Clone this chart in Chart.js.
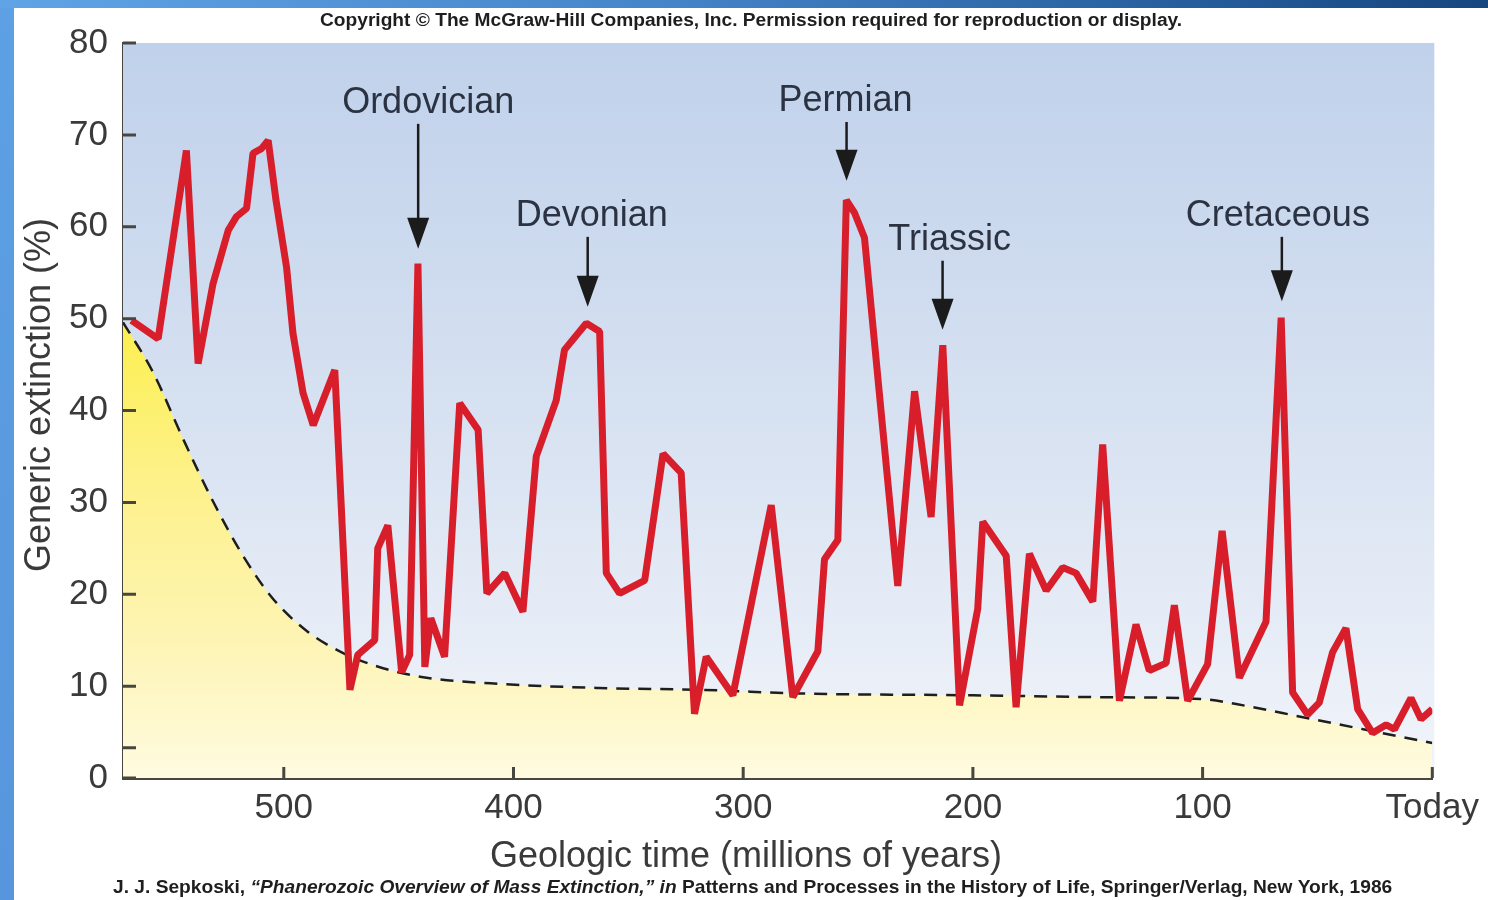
<!DOCTYPE html>
<html><head><meta charset="utf-8">
<script src="https://cdn.jsdelivr.net/npm/chart.js@4.4.1/dist/chart.umd.min.js"></script>
<style>
html,body{margin:0;padding:0;background:#fff;}
#wrap{position:relative;width:1488px;height:900px;overflow:hidden;background:#fff;}
#leftbar{position:absolute;left:0;top:0;width:14px;height:900px;background:linear-gradient(#5da0e3,#5796dc);}
#topbar{position:absolute;left:0;top:0;width:1488px;height:8px;background:linear-gradient(90deg,#60a4e6,#4584c8 45%,#2a63a3 75%,#15467f);}
canvas{position:absolute;left:0;top:0;}
</style></head><body>
<div id="wrap"><div id="leftbar"></div><div id="topbar"></div><canvas id="c" width="1488" height="900"></canvas></div>
<script>
// ---- data ----
const timeMya = [566.3,554.7,542.4,537.3,530.8,524.2,520.6,516.2,513.4,509.7,506.8,503.4,498.8,496.0,491.6,487.2,477.8,471.2,467.8,460.4,459.1,454.7,448.7,445.2,441.6,438.6,436.0,430.0,423.4,415.4,411.6,403.8,395.9,390.1,381.4,377.8,368.3,362.5,359.6,353.8,342.9,334.9,327.0,321.2,316.1,304.5,287.8,278.4,267.5,264.6,258.8,255.1,251.5,247.2,232.7,225.4,218.2,213.1,205.8,197.9,195.7,185.5,181.2,175.4,168.1,160.9,155.1,147.8,143.5,136.2,129.0,123.2,115.9,112.3,106.5,97.8,91.5,84.0,72.4,65.8,60.8,54.3,49.2,43.4,37.6,32.5,26.0,20.1,16.5,9.3,4.9,0];
const extinctionPct = [49.8,47.8,68.3,45.1,53.8,59.6,61.1,62.0,68.0,68.5,69.4,62.9,55.6,48.4,41.9,38.4,44.4,9.6,13.4,15.0,25.0,27.5,11.5,13.4,56.0,12.1,17.4,13.2,40.8,37.9,20.1,22.3,18.1,35.0,41.1,46.6,49.5,48.6,22.3,20.1,21.5,35.3,33.2,7.0,13.2,9.0,29.7,8.8,13.8,23.8,25.9,62.9,61.5,58.8,20.9,42.1,28.4,47.1,7.9,18.4,27.9,24.2,7.7,24.4,20.4,22.9,22.3,19.2,36.3,8.4,16.7,11.7,12.5,18.8,8.4,12.4,26.9,10.9,17.0,50.1,9.3,6.9,8.2,13.7,16.3,7.5,4.9,5.8,5.3,8.7,6.4,7.5];
const backgroundTimeMya = [570,557,544,531,518,505,490,475,460,440,410,363,319,275,200,145,101,80,58,30,0];
const backgroundPct = [49.6,44.2,37.0,30.2,24.3,19.6,16.0,13.7,12.2,11.0,10.3,9.8,9.6,9.2,9.0,8.8,8.6,7.8,6.7,5.3,3.8];
const xTickValues = [500,400,300,200,100,0];
const xTickLabels = ['500','400','300','200','100','Today'];
const yTickValues = [0,10,20,30,40,50,60,70,80];
const yTickLabels = ['0','10','20','30','40','50','60','70','80'];
const yMinorTicks = [3.3];
const eventNames = ['Ordovician','Devonian','Permian','Triassic','Cretaceous'];
const eventTimes = [441.5,367.7,255.0,213.2,65.5];
const eventArrowTip = [57.6,51.3,65.0,48.8,51.9];
const eventArrowTop = [71.2,58.9,71.4,56.3,58.9];
const xTitle = 'Geologic time (millions of years)';
const yTitle = 'Generic extinction (%)';
const headerText = 'Copyright \u00A9 The McGraw-Hill Companies, Inc. Permission required for reproduction or display.';
const footerParts = ['J. J. Sepkoski, ', '\u201CPhanerozoic Overview of Mass Extinction,\u201D in ', 'Patterns and Processes in the History of Life, Springer/Verlag, New York, 1986'];

// ---- layout / style ----
const FONT = '"Liberation Sans", Arial, Helvetica, sans-serif';
const AXIS_COLOR = '#48473f';
const TEXT_COLOR = '#3a3a3a';
const labelDx = [10, 4, -1, 7, -4];

const redPts = timeMya.map((t,i)=>({x:t, y:extinctionPct[i]}));
const basePts = backgroundTimeMya.map((t,i)=>({x:t, y:backgroundPct[i]}));

function fitFont(ctx, text, weight, target){
  ctx.font = weight + ' 20px ' + FONT;
  const w = ctx.measureText(text).width;
  return 20 * target / w;
}

const decor = {
  id:'decor',
  beforeDatasetsDraw(chart){
    const {ctx, chartArea:a} = chart;
    ctx.save();
    const g = ctx.createLinearGradient(0, a.top, 0, a.bottom);
    g.addColorStop(0, '#c0d1eb');
    g.addColorStop(0.55, '#d9e3f2');
    g.addColorStop(1, '#f1f4fa');
    ctx.fillStyle = g;
    ctx.fillRect(a.left, a.top, a.right - a.left + 2, a.bottom - a.top);
    ctx.restore();
  },
  afterDatasetsDraw(chart){
    const {ctx, chartArea:a, scales} = chart;
    const xs = scales.x, ys = scales.y;
    ctx.save();
    // inner tick marks
    ctx.strokeStyle = AXIS_COLOR; ctx.lineWidth = 3;
    ctx.beginPath();
    yTickValues.concat(yMinorTicks).forEach(v=>{
      const y = ys.getPixelForValue(v);
      ctx.moveTo(a.left, y); ctx.lineTo(a.left + 13, y);
    });
    xTickValues.forEach(v=>{
      const x = xs.getPixelForValue(v);
      ctx.moveTo(x, a.bottom); ctx.lineTo(x, a.bottom - 11);
    });
    ctx.stroke();
    // event arrows + labels
    eventNames.forEach((name,i)=>{
      const x = xs.getPixelForValue(eventTimes[i]);
      const yTip = ys.getPixelForValue(eventArrowTip[i]);
      const yTop = ys.getPixelForValue(eventArrowTop[i]);
      ctx.strokeStyle = '#1b1b1b'; ctx.lineWidth = 2.5;
      ctx.beginPath(); ctx.moveTo(x, yTop); ctx.lineTo(x, yTip - 20); ctx.stroke();
      ctx.fillStyle = '#1b1b1b';
      ctx.beginPath(); ctx.moveTo(x - 11, yTip - 31); ctx.lineTo(x + 11, yTip - 31); ctx.lineTo(x, yTip); ctx.closePath(); ctx.fill();
      ctx.font = '36px ' + FONT; ctx.fillStyle = '#2b3342';
      ctx.textAlign = 'center'; ctx.textBaseline = 'alphabetic';
      ctx.fillText(name, x + labelDx[i], yTop - 11);
    });
    ctx.restore();
  },
  afterDraw(chart){
    const {ctx} = chart;
    ctx.save();
    ctx.fillStyle = TEXT_COLOR;
    ctx.textBaseline = 'alphabetic';
    // axis titles
    ctx.font = '36px ' + FONT; ctx.textAlign = 'center';
    ctx.fillText(xTitle, 746, 867);
    ctx.save(); ctx.translate(50, 395); ctx.rotate(-Math.PI/2);
    ctx.fillText(yTitle, 0, 0); ctx.restore();
    // header
    ctx.fillStyle = '#1e1e1e';
    const hs = fitFont(ctx, headerText, 'bold', 863);
    ctx.font = 'bold ' + hs + 'px ' + FONT; ctx.textAlign = 'left';
    ctx.fillText(headerText, 320, 26);
    // footer (mixed styles)
    const styles = ['bold', 'italic bold', 'bold'];
    let tot = 0;
    footerParts.forEach((p,i)=>{ ctx.font = styles[i] + ' 20px ' + FONT; tot += ctx.measureText(p).width; });
    const fs = 20 * 1280 / tot;
    let x = 113;
    footerParts.forEach((p,i)=>{
      ctx.font = styles[i] + ' ' + fs + 'px ' + FONT;
      ctx.fillText(p, x, 893);
      x += ctx.measureText(p).width;
    });
    ctx.restore();
  }
};

new Chart(document.getElementById('c'), {
  type: 'line',
  data: {
    datasets: [
      { data: redPts, borderColor: '#d81e2a', borderWidth: 7, pointRadius: 0, fill: false, tension: 0, borderJoinStyle: 'bevel', order: 0 },
      { data: basePts, borderColor: '#1e1e1e', borderWidth: 2.5, borderDash: [13, 9], pointRadius: 0,
        cubicInterpolationMode: 'monotone', fill: 'origin', order: 1,
        backgroundColor: (c) => {
          const ch = c.chart; const a = ch.chartArea;
          if (!a) return 'rgba(253,242,120,0.9)';
          const g = ch.ctx.createLinearGradient(0, ch.scales.y.getPixelForValue(50), 0, a.bottom);
          g.addColorStop(0, '#fcef4e');
          g.addColorStop(0.35, '#fdf18a');
          g.addColorStop(0.7, '#fdf4b4');
          g.addColorStop(1, '#fffbe0');
          return g;
        } }
    ]
  },
  options: {
    responsive: false, animation: false, devicePixelRatio: 1,
    layout: { padding: { left: 0, top: 43, right: 53, bottom: 0 } },
    plugins: { legend: { display: false }, tooltip: { enabled: false } },
    scales: {
      x: {
        type: 'linear', reverse: true, min: 0, max: 570, position: 'bottom',
        grid: { display: false, drawTicks: false },
        border: { display: true, color: AXIS_COLOR, width: 3 },
        afterBuildTicks: s => { s.ticks = xTickValues.map(v => ({ value: v })); },
        afterFit: s => { s.height = 122; },
        ticks: { padding: 9, color: TEXT_COLOR, font: { family: FONT, size: 35 }, maxRotation: 0,
          callback: (v) => { const i = xTickValues.indexOf(v); return i >= 0 ? xTickLabels[i] : ''; } }
      },
      y: {
        type: 'linear', min: 0, max: 80, position: 'left',
        grid: { display: false, drawTicks: false },
        border: { display: true, color: AXIS_COLOR, width: 3 },
        afterBuildTicks: s => { s.ticks = yTickValues.map(v => ({ value: v })); },
        afterFit: s => { s.width = 123; },
        ticks: { padding: 15, color: TEXT_COLOR, font: { family: FONT, size: 35 },
          callback: (v) => { const i = yTickValues.indexOf(v); return i >= 0 ? yTickLabels[i] : ''; } }
      }
    }
  },
  plugins: [decor]
});
</script>
</body></html>
